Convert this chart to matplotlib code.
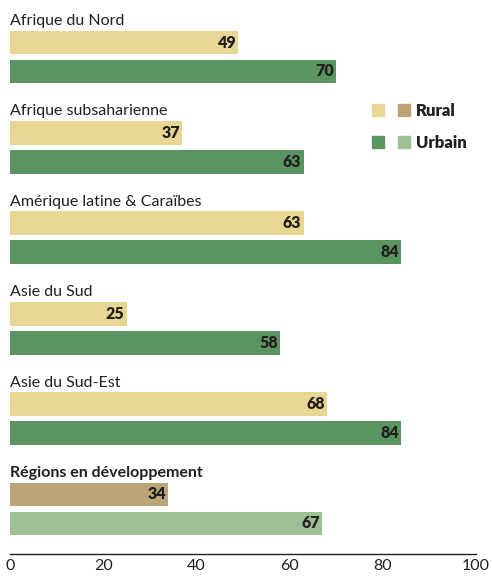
import matplotlib
matplotlib.use('Agg')
import matplotlib.pyplot as plt
from matplotlib.lines import Line2D
from matplotlib.legend_handler import HandlerTuple

regions = ['Afrique du Nord', 'Afrique subsaharienne', 'Amérique latine & Caraïbes',
           'Asie du Sud', 'Asie du Sud-Est', 'Régions en développement']
rural = [49, 37, 63, 25, 68, 34]
urbain = [70, 63, 84, 58, 84, 67]
x_ticks = [0, 20, 40, 60, 80, 100]

# colours: regions / developing-regions total
rural_col = ['#E8D792'] * 5 + ['#BBA578']
urbain_col = ['#5A9461'] * 5 + ['#9DC095']
text_col = '#231F20'

plt.rcParams['font.family'] = ['Lato', 'DejaVu Sans']

fig = plt.figure(figsize=(4.92, 5.76), dpi=100)
ax = fig.add_axes([10 / 492, 22 / 576, 466 / 492, 554 / 576])

step = 3.117
bar_h = 0.82
for i, name in enumerate(regions):
    y0 = i * step
    ax.barh(y0, rural[i], height=bar_h, color=rural_col[i])
    ax.barh(y0 + 1, urbain[i], height=bar_h, color=urbain_col[i])
    ax.text(rural[i] - 0.45, y0, str(rural[i]), ha='right', va='center',
            fontsize=11.5, fontweight='heavy', color=text_col)
    ax.text(urbain[i] - 0.45, y0 + 1, str(urbain[i]), ha='right', va='center',
            fontsize=11.5, fontweight='heavy', color=text_col)
    ax.text(0, y0 - 0.6, name, ha='left', va='baseline', fontsize=11.5,
            fontweight='bold' if i == len(regions) - 1 else 'normal', color=text_col)

ax.set_xlim(0, 100)
ax.set_ylim((554 - 42.5) / 29, -42.5 / 29)
ax.set_xticks(x_ticks)
ax.set_yticks([])
ax.tick_params(axis='x', length=0, pad=3.5, labelsize=11.5, labelcolor=text_col)
for side in ['top', 'right', 'left']:
    ax.spines[side].set_visible(False)
ax.spines['bottom'].set_color(text_col)
ax.spines['bottom'].set_linewidth(1)
ax.patch.set_alpha(0)

# legend: two squares per series
def sq(c):
    return Line2D([], [], marker='s', linestyle='none', markersize=9, color=c)

handles = [(sq('#E8D792'), sq('#BBA578')), (sq('#5A9461'), sq('#9DC095'))]
fig.legend(handles, ['Rural', 'Urbain'], handler_map={tuple: HandlerTuple(ndivide=None, pad=0.9)},
           loc='upper left', bbox_to_anchor=(366 / 492, 1 - 96 / 576), frameon=False,
           prop={'weight': 'heavy', 'size': 12}, labelcolor=text_col,
           handlelength=2.2, handletextpad=0.4, labelspacing=0.95, borderaxespad=0)

fig.savefig('out.png', dpi=100)
